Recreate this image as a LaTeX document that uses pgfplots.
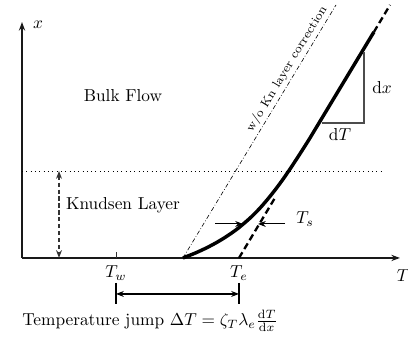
\documentclass[border=0pt]{standalone}
\usepackage{pgfplots}
\pgfplotsset{compat=1.18}
\usetikzlibrary{arrows.meta}
\begin{document}
\begin{tikzpicture}
\begin{axis}[hide axis, scale only axis, width=236pt, height=194.9pt,
  xmin=-22, xmax=386, ymin=-79, ymax=258, clip=false]
\path (axis cs:-22,-79) rectangle (axis cs:386,258);
% axes
\addplot[draw=black!90, line width=0.8pt, -{Stealth[length=5pt,width=3.6pt]}] coordinates {(0,0) (378,0)};
\addplot[draw=black!90, line width=0.8pt, -{Stealth[length=5pt,width=3.6pt]}] coordinates {(0,0) (0,236)};
% Tw tick
\addplot[draw=black!80, line width=0.5pt] coordinates {(94,0) (94,6)};
% dotted Knudsen boundary
\addplot[black, dotted, line width=0.5pt] coordinates {(0,87) (359,87)};
% Knudsen double arrow
\addplot[black!80, dash pattern=on 2.5pt off 1.5pt, line width=0.8pt, {Stealth[length=4.5pt,width=3.4pt]}-{Stealth[length=4.5pt,width=3.4pt]}] coordinates {(37,87) (37,0)};
% dash-dotted line w/o Kn correction
\addplot[black, dash pattern=on 2.5pt off 1.2pt on 0.4pt off 1.2pt, line width=0.35pt] coordinates {(161,0) (314,253)};
% dashed extrapolation
\addplot[black, line width=1.35pt, dash pattern=on 3.8pt off 2.2pt] coordinates {(217,0) (253.5,61)};
\addplot[black, line width=1.35pt, dash pattern=on 3.8pt off 2.2pt] coordinates {(351.9,226) (368,253)};
% main curve
\addplot[black, line width=2pt, smooth] coordinates {
(161,0) (173.5,5) (184.3,10) (193.8,15) (202.2,20) (209.7,25) (216.5,30)
(228.2,40) (238.1,50) (246.7,60) (254.6,70) (261.9,80) (268.7,90) (275.3,100)
(281.7,110) (288,120) (294,130) (351.9,226)};
% slope triangle
\addplot[black!70, line width=0.7pt] coordinates {(300,135) (342,135) (342,206)};
\node[overlay] at (axis cs:360,170) {$\mathrm{d}x$};
\node[overlay] at (axis cs:318,123) {$\mathrm{d}T$};
% Ts arrows
\addplot[black, line width=0.6pt, -{Stealth[length=4.5pt,width=3.4pt]}] coordinates {(193,34) (221,34)};
\addplot[black, line width=0.6pt, -{Stealth[length=4.5pt,width=3.4pt]}] coordinates {(263,34) (236,34)};
\node[overlay] at (axis cs:283,39) {$T_s$};
% labels
\node[overlay] at (axis cs:101,162) {Bulk Flow};
\node[overlay] at (axis cs:101,53) {Knudsen Layer};
\node[overlay] at (axis cs:94,-15) {$T_w$};
\node[overlay] at (axis cs:217,-15) {$T_e$};
\node[overlay] at (axis cs:381,-18) {$T$};
\node[overlay] at (axis cs:16,233) {$x$};
\node[overlay, rotate=58.8, font=\scriptsize, inner sep=0pt] at (axis cs:265,189) {w/o Kn layer correction};
% temperature jump
\addplot[black, line width=0.8pt] coordinates {(94,-25) (94,-46)};
\addplot[black, line width=0.8pt] coordinates {(217,-25) (217,-46)};
\addplot[black, line width=0.8pt, {Stealth[length=4.5pt,width=3.4pt]}-{Stealth[length=4.5pt,width=3.4pt]}] coordinates {(94,-36) (217,-36)};
\node[overlay] at (axis cs:128,-63) {Temperature jump $\Delta T = \zeta_T \lambda_e \frac{\mathrm{d}T}{\mathrm{d}x}$};
\end{axis}
\end{tikzpicture}
\end{document}
